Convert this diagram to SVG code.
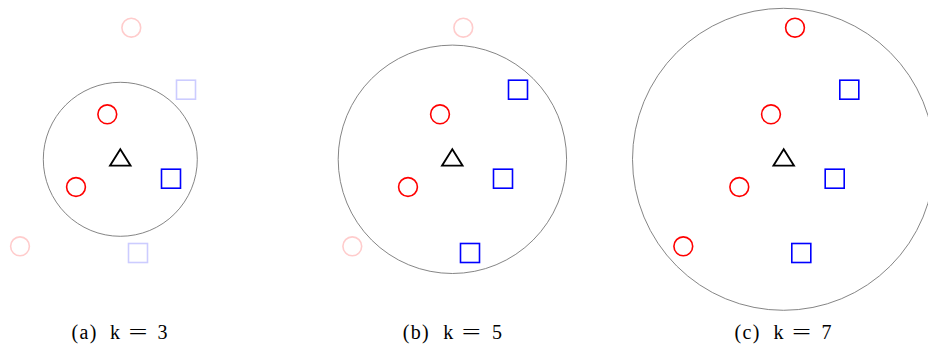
<svg xmlns="http://www.w3.org/2000/svg" xmlns:xlink="http://www.w3.org/1999/xlink" width="928" height="354" viewBox="0 0 928 354">
<style>
.big{fill:none;stroke:#777;stroke-width:0.9}
.rc{fill:none;stroke:#ff0000;stroke-width:1.6}
.bs{fill:none;stroke:#0000ff;stroke-width:1.6}
.pc{fill:none;stroke:#ffcccc;stroke-width:1.6}
.ls{fill:none;stroke:#ccccff;stroke-width:1.6}
.tri{fill:none;stroke:#000;stroke-width:1.8;stroke-linejoin:miter}
.lbl{font-family:"Liberation Serif","DejaVu Serif",serif;font-size:20px;fill:#000}
</style>
<defs>
<circle id="c" r="9.4"/>
<rect id="s" x="-9.5" y="-9.5" width="19" height="19"/>
<path id="t" d="M0,-10 L-10.3,6.4 L10.3,6.4 Z"/>
</defs>
<g id="panel-a">
<circle class="big" cx="120.3" cy="159.3" r="77"/>
<use href="#c" class="pc" x="131.3" y="27.7"/>
<use href="#s" class="ls" x="186" y="89.7"/>
<use href="#c" class="rc" x="107.3" y="114.3"/>
<use href="#t" class="tri" x="120.3" y="159.3"/>
<use href="#s" class="bs" x="171" y="178.7"/>
<use href="#c" class="rc" x="76" y="187"/>
<use href="#c" class="pc" x="20" y="246.3"/>
<use href="#s" class="ls" x="138" y="253"/>
<text class="lbl" y="339"><tspan x="71.5" textLength="25" lengthAdjust="spacing">(a)</tspan><tspan x="110">k</tspan><tspan x="128.5" textLength="19" lengthAdjust="spacingAndGlyphs">=</tspan><tspan x="157.5">3</tspan></text>
</g>
<g id="panel-b">
<circle class="big" cx="452.4" cy="159.3" r="114.2"/>
<use href="#c" class="pc" x="463.3" y="27.7"/>
<use href="#s" class="bs" x="518" y="89.7"/>
<use href="#c" class="rc" x="440" y="114.3"/>
<use href="#t" class="tri" x="452.3" y="159.3"/>
<use href="#s" class="bs" x="503" y="178.7"/>
<use href="#c" class="rc" x="408" y="187"/>
<use href="#c" class="pc" x="352.3" y="246.3"/>
<use href="#s" class="bs" x="470" y="253"/>
<text class="lbl" y="339"><tspan x="402.7" textLength="26" lengthAdjust="spacing">(b)</tspan><tspan x="443.3">k</tspan><tspan x="461.7" textLength="19" lengthAdjust="spacingAndGlyphs">=</tspan><tspan x="492">5</tspan></text>
</g>
<g id="panel-c">
<circle class="big" cx="783.5" cy="159.3" r="151"/>
<use href="#c" class="rc" x="795" y="27.7"/>
<use href="#s" class="bs" x="849.3" y="89.7"/>
<use href="#c" class="rc" x="771" y="114.3"/>
<use href="#t" class="tri" x="783.7" y="159.3"/>
<use href="#s" class="bs" x="834.7" y="178.7"/>
<use href="#c" class="rc" x="739.3" y="187"/>
<use href="#c" class="rc" x="683.3" y="246.3"/>
<use href="#s" class="bs" x="801.3" y="253"/>
<text class="lbl" y="339"><tspan x="734.5" textLength="25" lengthAdjust="spacing">(c)</tspan><tspan x="773.5">k</tspan><tspan x="792" textLength="19" lengthAdjust="spacingAndGlyphs">=</tspan><tspan x="821.5">7</tspan></text>
</g>
<g id="connectors"/>
</svg>
